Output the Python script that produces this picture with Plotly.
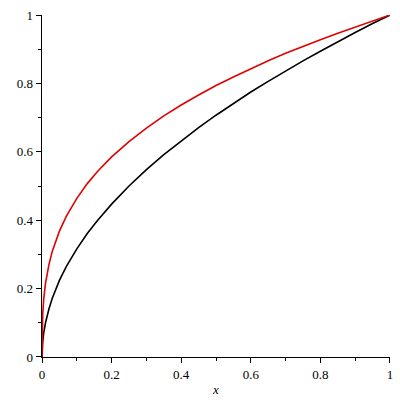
import plotly.graph_objects as go

x_vals = [0, 0.0001, 0.0005, 0.001, 0.002, 0.005, 0.01, 0.02, 0.03, 0.05, 0.07, 0.1, 0.13, 0.16,
          0.2, 0.25, 0.3, 0.35, 0.4, 0.45, 0.5, 0.55, 0.6, 0.65, 0.7, 0.75, 0.8, 0.85, 0.9, 0.95, 1.0]
black_vals = [0, 0.010, 0.022, 0.032, 0.045, 0.071, 0.100, 0.141, 0.173, 0.224, 0.265, 0.316, 0.361, 0.400,
              0.447, 0.500, 0.548, 0.592, 0.632, 0.671, 0.707, 0.742, 0.775, 0.806, 0.837, 0.866, 0.894, 0.922, 0.949, 0.975, 1.0]
red_vals = [0, 0.046, 0.079, 0.100, 0.126, 0.171, 0.215, 0.271, 0.311, 0.368, 0.412, 0.464, 0.507, 0.543,
            0.585, 0.630, 0.669, 0.705, 0.737, 0.766, 0.794, 0.819, 0.843, 0.866, 0.888, 0.909, 0.928, 0.947, 0.965, 0.983, 1.0]
tick_vals = [0, 0.2, 0.4, 0.6, 0.8, 1]
tick_text = ["0", "0.2", "0.4", "0.6", "0.8", "1"]

fig = go.Figure()
fig.add_trace(go.Scatter(x=x_vals, y=black_vals, mode="lines", line=dict(color="black", width=1.6)))
fig.add_trace(go.Scatter(x=x_vals, y=red_vals, mode="lines", line=dict(color="#e00000", width=1.6)))

font = dict(family="Liberation Serif, Times New Roman, serif", size=13, color="#000000")
axis_common = dict(range=[-0.0001, 1.0001], showgrid=False, zeroline=False, showline=True, linecolor="black",
                   linewidth=1.3, ticks="outside", ticklen=5, tickcolor="black", tickwidth=1,
                   tickmode="array", tickvals=tick_vals, ticktext=tick_text, tickfont=font,
                   automargin=False,
                   minor=dict(tickmode="array", tickvals=[0.1, 0.3, 0.5, 0.7, 0.9],
                              ticks="outside", ticklen=3, tickcolor="black", showgrid=False))

fig.update_layout(
    template="none",
    font=font,
    width=400, height=400, showlegend=False,
    plot_bgcolor="white", paper_bgcolor="white",
    margin=dict(l=42, r=10, t=15, b=43),
    xaxis=dict(**axis_common, title=dict(text="<i>x</i>", font=font, standoff=4)),
    yaxis=dict(**axis_common),
)
fig.write_html("out.html", config={"displayModeBar": False, "staticPlot": True})

with open("out.html", encoding="utf-8") as f:
    html = f.read()
html = html.replace("<body>", '<body style="margin:0;padding:0">', 1)
with open("out.html", "w", encoding="utf-8") as f:
    f.write(html)
